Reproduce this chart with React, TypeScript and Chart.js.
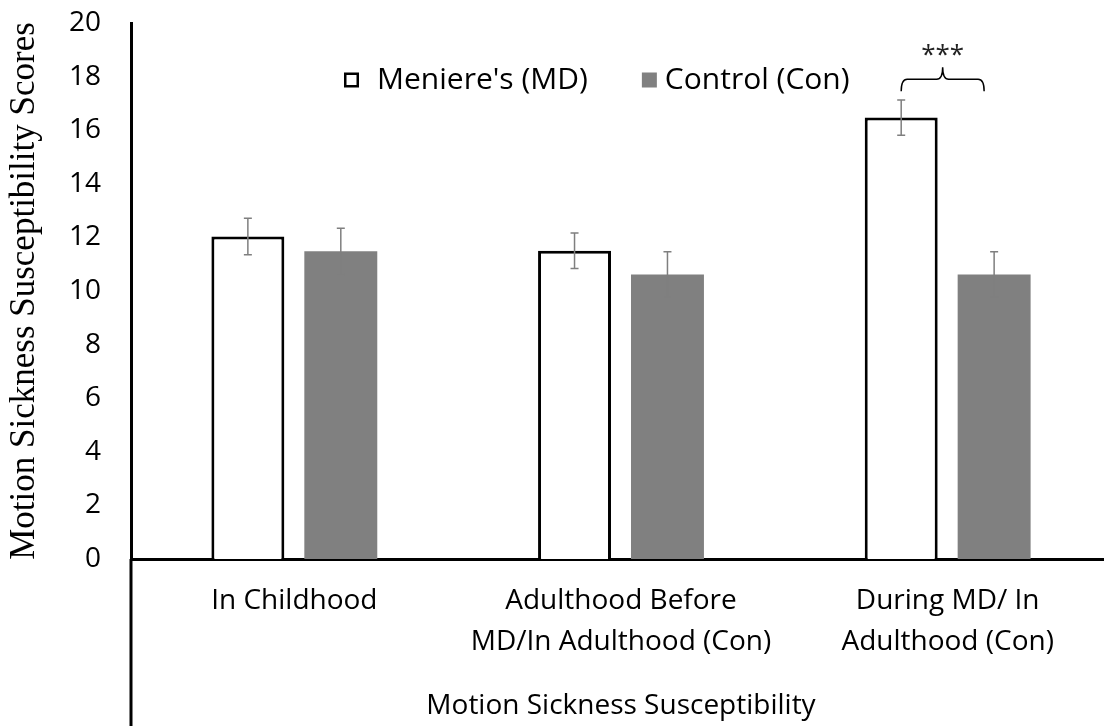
import React, { useEffect, useRef } from 'react';
import { Chart, registerables } from 'chart.js';

Chart.register(...registerables);

const categories: string[][] = [
  ['In Childhood'],
  ['Adulthood Before', 'MD/In Adulthood (Con)'],
  ['During MD/ In', 'Adulthood (Con)'],
];
const seriesNames = ["Meniere's (MD)", 'Control (Con)'];
const mdValues = [12.03, 11.5, 16.47];
const conValues = [11.48, 10.62, 10.62];
const mdErrors = [0.68, 0.66, 0.66];
const conErrors = [0.86, 0.84, 0.84];
const yMin = 0;
const yMax = 20;
const yStep = 2;
const xTitle = 'Motion Sickness Susceptibility';
const yTitle = 'Motion Sickness Susceptibility Scores';
const sigCategory = 2;
const sigLabel = '***';
const sigLevel = 17.9;

const SANS = "'Open Sans', sans-serif";
const SERIF = "'Liberation Serif', 'Times New Roman', serif";

const errorBarPlugin = {
  id: 'errorBars',
  afterDatasetsDraw(chart: any) {
    const ctx = chart.ctx;
    const y = chart.scales.y;
    chart.data.datasets.forEach((ds: any, i: number) => {
      const meta = chart.getDatasetMeta(i);
      meta.data.forEach((bar: any, j: number) => {
        const v = ds.data[j];
        const e = ds.errors[j];
        const top = y.getPixelForValue(v + e);
        const bot = y.getPixelForValue(v - e);
        ctx.save();
        ctx.strokeStyle = '#7f7f7f';
        ctx.lineWidth = 1.5;
        ctx.beginPath();
        ctx.moveTo(bar.x, top);
        ctx.lineTo(bar.x, bot);
        ctx.moveTo(bar.x - 4, top);
        ctx.lineTo(bar.x + 4, top);
        ctx.moveTo(bar.x - 4, bot);
        ctx.lineTo(bar.x + 4, bot);
        ctx.stroke();
        ctx.restore();
      });
    });
  },
};

const extrasPlugin = {
  id: 'extras',
  afterDraw(chart: any) {
    const ctx = chart.ctx;
    const area = chart.chartArea;
    const yScale = chart.scales.y;
    ctx.save();
    ctx.strokeStyle = '#000';
    ctx.lineWidth = 3;
    ctx.beginPath();
    ctx.moveTo(area.left, area.bottom);
    ctx.lineTo(area.left, chart.height);
    ctx.stroke();
    ctx.restore();

    const md = chart.getDatasetMeta(0).data[sigCategory];
    const con = chart.getDatasetMeta(1).data[sigCategory];
    const left = md.x;
    const right = con.x - 10;
    const mid = (left + right) / 2;
    const by = yScale.getPixelForValue(sigLevel);
    const endY = by + 12;
    const tipY = by - 12;
    const r = 6;
    ctx.save();
    ctx.strokeStyle = '#000';
    ctx.lineWidth = 1.5;
    ctx.beginPath();
    ctx.moveTo(left, endY);
    ctx.quadraticCurveTo(left, by, left + r, by);
    ctx.lineTo(mid - r, by);
    ctx.quadraticCurveTo(mid, by, mid, tipY);
    ctx.quadraticCurveTo(mid, by, mid + r, by);
    ctx.lineTo(right - r, by);
    ctx.quadraticCurveTo(right, by, right, endY);
    ctx.stroke();
    ctx.fillStyle = '#222';
    ctx.font = `26px ${SANS}`;
    ctx.textAlign = 'center';
    ctx.textBaseline = 'middle';
    ctx.fillText(sigLabel, mid, by - 24);
    ctx.restore();

    ctx.save();
    const ly = area.top + 57;
    ctx.font = `30px ${SANS}`;
    ctx.textBaseline = 'middle';
    ctx.textAlign = 'left';
    const s = 15;
    const textGap = [18, 8];
    let lx = 344;
    chart.data.datasets.forEach((ds: any, i: number) => {
      ctx.fillStyle = ds.backgroundColor;
      ctx.fillRect(lx, ly - s / 2, s, s);
      if (ds.borderWidth > 0) {
        ctx.strokeStyle = ds.borderColor;
        ctx.lineWidth = 2.5;
        ctx.strokeRect(lx + 1.25, ly - s / 2 + 1.25, s - 2.5, s - 2.5);
      }
      ctx.fillStyle = '#000';
      ctx.fillText(ds.label, lx + s + textGap[i], ly);
      lx += s + textGap[i] + ctx.measureText(ds.label).width + 54;
    });
    ctx.restore();
  },
};

export default function App() {
  const ref = useRef<HTMLCanvasElement | null>(null);
  useEffect(() => {
    if (!ref.current) return;
    const chart = new Chart(ref.current, {
      type: 'bar',
      data: {
        labels: categories,
        datasets: [
          {
            label: seriesNames[0],
            data: mdValues,
            errors: mdErrors,
            backgroundColor: '#ffffff',
            borderColor: '#000000',
            borderWidth: 3,
            barPercentage: 0.785,
            categoryPercentage: 0.569,
          } as any,
          {
            label: seriesNames[1],
            data: conValues,
            errors: conErrors,
            backgroundColor: '#808080',
            borderColor: '#808080',
            borderWidth: 0,
            barPercentage: 0.785,
            categoryPercentage: 0.569,
          } as any,
        ],
      },
      options: {
        responsive: false,
        animation: false,
        devicePixelRatio: 1,
        layout: { padding: { top: 23, left: 0, right: 0, bottom: 0 } },
        plugins: {
          legend: { display: false },
          tooltip: { enabled: false },
        },
        scales: {
          x: {
            grid: { display: false, drawTicks: false },
            border: { display: true, color: '#000', width: 3 },
            ticks: {
              color: '#000',
              padding: 22,
              maxRotation: 0,
              autoSkip: false,
              font: { family: SANS, size: 28, lineHeight: 1.46 },
            },
            title: {
              display: true,
              text: xTitle,
              color: '#000',
              font: { family: SANS, size: 28, lineHeight: 1.2 },
              padding: { top: 0, bottom: 3 },
            },
            afterFit(scale: any) {
              scale.height = 167;
            },
          },
          y: {
            min: yMin,
            max: yMax,
            grid: { display: false, drawTicks: false },
            border: { display: true, color: '#000', width: 3 },
            ticks: {
              stepSize: yStep,
              color: '#000',
              padding: 30,
              font: { family: SANS, size: 28 },
            },
            title: {
              display: true,
              text: yTitle,
              color: '#000',
              font: { family: SERIF, size: 35, lineHeight: 1.2 },
              padding: { top: 4, bottom: 0 },
            },
            afterFit(scale: any) {
              scale.width = 131;
              scale.paddingTop = 0;
              scale.paddingBottom = 0;
            },
          },
        },
      },
      plugins: [errorBarPlugin, extrasPlugin],
    });
    return () => chart.destroy();
  }, []);
  return (
    <div
      style={{
        position: 'fixed',
        left: 0,
        top: 0,
        width: 1104,
        height: 726,
        overflow: 'hidden',
        background: '#fff',
      }}
    >
      <canvas ref={ref} width={1111} height={726} style={{ display: 'block' }} />
    </div>
  );
}
